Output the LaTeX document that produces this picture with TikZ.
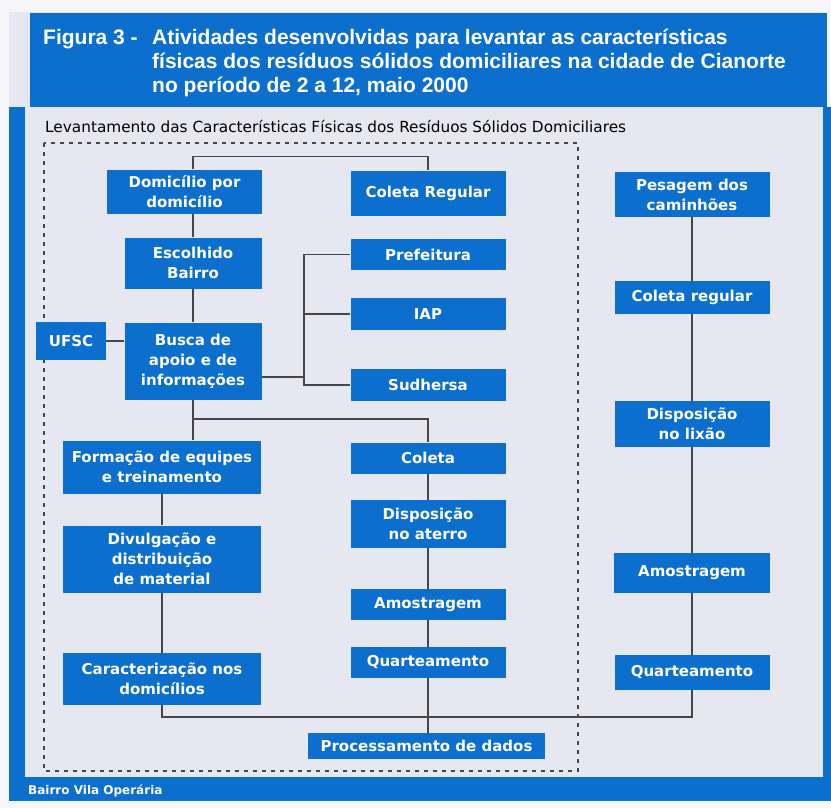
\documentclass[tikz,border=0pt]{standalone}
\usepackage{fontspec}
\setmainfont{Liberation Sans}
\newfontfamily\boxfont{DejaVu Sans}

\definecolor{boxblue}{RGB}{12,111,206}
\definecolor{paper}{RGB}{231,231,241}
\definecolor{edge}{RGB}{246,246,250}
\definecolor{linegray}{RGB}{70,70,70}

\tikzset{
  blk/.style={fill=boxblue, text=white, align=center, inner sep=0pt,
    font=\boxfont\bfseries\fontsize{15}{20}\selectfont},
  link/.style={draw=linegray, line width=1.3pt},
  ttlline/.style={anchor=base west, text=white, inner sep=0pt,
    font=\bfseries\fontsize{21}{24}\selectfont}
}

\begin{document}
\begin{tikzpicture}[x=1pt, y=-1pt]
\useasboundingbox (0,0) rectangle (831,808);

% frame and title
\fill[edge] (0,0) rectangle (831,808);
\fill[paper] (9,12) rectangle (823,777);
\fill[boxblue] (9,107) rectangle (25,801);
\fill[boxblue] (823,107) rectangle (831,801);
\fill[boxblue] (9,777) rectangle (831,801);
\fill[boxblue] (30,13) rectangle (827,107);
\node[ttlline] (fig) at (43,45) {Figura 3 -};
\node[ttlline] (ttl1) at (152,45) {Atividades desenvolvidas para levantar as características};
\node[ttlline] (ttl2) at (152,69) {físicas dos resíduos sólidos domiciliares na cidade de Cianorte};
\node[ttlline] (ttl3) at (152,93) {no período de 2 a 12, maio 2000};
\node[anchor=base west, inner sep=0pt, font=\boxfont\fontsize{15.3}{18}\selectfont] (sub) at (45,132)
  {Levantamento das Características Físicas dos Resíduos Sólidos Domiciliares};
\node[anchor=base west, inner sep=0pt, text=white, font=\boxfont\bfseries\fontsize{12}{14}\selectfont] (bairro) at (28,794)
  {Bairro Vila Operária};

% dotted area
\draw[linegray, line width=1.6pt, dash pattern=on 4pt off 5pt] (44,143) rectangle (578,771);

% left column
\node[blk, minimum width=155pt, minimum height=44pt] (dom) at (184.5,191.5) {Domicílio por\\domicílio};
\node[blk, minimum width=137pt, minimum height=51pt] (esc) at (193,263) {Escolhido\\Bairro};
\node[blk, minimum width=137pt, minimum height=77pt] (busca) at (193,361) {Busca de\\apoio e de\\informações};
\node[blk, minimum width=70pt, minimum height=38pt] (ufsc) at (71,341) {UFSC};
\node[blk, minimum width=198pt, minimum height=53pt] (form) at (162,467) {Formação de equipes\\e treinamento};
\node[blk, minimum width=198pt, minimum height=67pt] (divul) at (162,559) {Divulgação e\\distribuição\\de material};
\node[blk, minimum width=198pt, minimum height=52pt] (carac) at (162,679) {Caracterização nos\\domicílios};

% middle column
\node[blk, minimum width=155pt, minimum height=45pt] (colreg) at (428,193) {Coleta Regular};
\node[blk, minimum width=155pt, minimum height=31pt] (pref) at (428,254.5) {Prefeitura};
\node[blk, minimum width=155pt, minimum height=32pt] (iap) at (428,314) {IAP};
\node[blk, minimum width=155pt, minimum height=32pt] (sud) at (428,385) {Sudhersa};
\node[blk, minimum width=155pt, minimum height=31pt] (coleta) at (428,458) {Coleta};
\node[blk, minimum width=155pt, minimum height=48pt] (dispat) at (428,524) {Disposição\\no aterro};
\node[blk, minimum width=155pt, minimum height=31pt] (amos) at (428,604.5) {Amostragem};
\node[blk, minimum width=155pt, minimum height=31pt] (quart) at (428,662.5) {Quarteamento};
\node[blk, minimum width=237pt, minimum height=26pt] (proc) at (426.5,746) {Processamento de dados};

% right column
\node[blk, minimum width=155pt, minimum height=45pt] (pesag) at (692,194.5) {Pesagem dos\\caminhões};
\node[blk, minimum width=155pt, minimum height=33pt] (colreg2) at (692,297.5) {Coleta regular};
\node[blk, minimum width=155pt, minimum height=46pt] (displix) at (692,424) {Disposição\\no lixão};
\node[blk, minimum width=156pt, minimum height=40pt] (amos2) at (692,573) {Amostragem};
\node[blk, minimum width=155pt, minimum height=35pt] (quart2) at (692,672.5) {Quarteamento};

% connectors
\coordinate (gov) at (304,320);
\coordinate (split) at (193,419);
\coordinate (join) at (428,717);
\draw[link] (esc.north |- dom.south) -- (esc.north);
\draw[link] (esc.north |- dom.north) -- ++(0,-13) -| (colreg.north);
\draw[link] (esc) -- (busca);
\draw[link] (ufsc.east) -- (ufsc.east -| busca.west);
\draw[link] ([yshift=-16pt]busca.east) coordinate (bq) -- (bq -| gov);
\draw[link] (pref.west) -| (gov) |- (sud.west);
\draw[link] (iap.west) -- (iap.west -| gov);
\draw[link] (busca.south) -- (busca.south |- form.north);
\draw[link] (split) -| (coleta.north);
\draw[link] (form) -- (divul);
\draw[link] (divul) -- (carac);
\draw[link] (carac.south) |- (join);
\draw[link] (coleta) -- (dispat);
\draw[link] (dispat) -- (amos);
\draw[link] (amos) -- (quart);
\draw[link] (quart.south) -- (quart.south |- proc.north);
\draw[link] (pesag) -- (colreg2);
\draw[link] (colreg2) -- (displix);
\draw[link] (displix) -- (amos2);
\draw[link] (amos2) -- (quart2);
\draw[link] (quart2.south) |- (join);
\end{tikzpicture}
\end{document}
